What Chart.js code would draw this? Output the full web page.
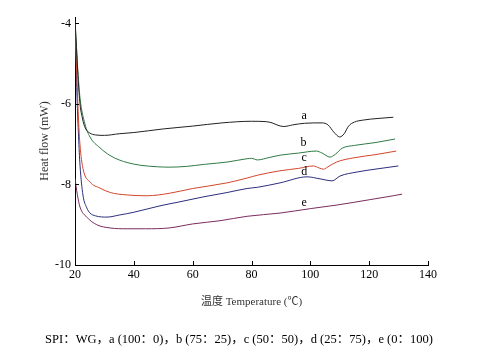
<!DOCTYPE html>
<html>
<head>
<meta charset="utf-8">
<script src="https://cdn.jsdelivr.net/npm/chart.js@4.4.1/dist/chart.umd.min.js"></script>
<style>
html,body{margin:0;padding:0;background:#fff;}
#wrap{position:relative;width:477px;height:354px;}
</style>
</head>
<body>
<div id="wrap"><canvas id="c" width="477" height="354"></canvas></div>
<script>
// ---- data ----
const seriesNames = ['a', 'b', 'c', 'd', 'e'];
const seriesColors = ['#222222', '#2f7a45', '#d2462c', '#2a2e7e', '#7a2c5c'];

const curveA = [[20,-3.9],[20.5,-4.6],[21,-5.3],[21.7,-6.0],[22.5,-6.35],[23.5,-6.6],[25,-6.72],[27,-6.77],[30,-6.78],[35,-6.74],[40,-6.71],[50,-6.62],[60,-6.55],[70,-6.47],[80,-6.43],[85,-6.44],[87,-6.47],[89,-6.53],[91,-6.56],[94,-6.52],[98,-6.48],[104,-6.47],[106,-6.52],[108,-6.7],[110,-6.82],[111.5,-6.74],[113,-6.55],[115,-6.45],[118,-6.4],[123,-6.36],[128.2,-6.33]];
const curveB = [[20,-3.95],[20.5,-4.6],[21,-5.2],[21.7,-5.85],[23.4,-6.5],[25.1,-6.82],[28.5,-7.09],[31.9,-7.28],[35,-7.39],[38,-7.46],[42,-7.52],[48,-7.56],[52,-7.57],[58,-7.55],[64,-7.5],[72,-7.44],[78.5,-7.36],[80,-7.35],[82,-7.39],[86,-7.33],[90,-7.27],[96,-7.22],[102,-7.17],[104,-7.22],[106.7,-7.32],[108.5,-7.25],[110.8,-7.1],[115,-7.03],[122,-6.96],[128.8,-6.87]];
const curveC = [[20,-4.0],[20.3,-4.6],[20.7,-5.45],[21.2,-6.4],[21.7,-7.02],[22.7,-7.6],[25.1,-7.94],[28.5,-8.09],[32,-8.2],[37.7,-8.26],[44.5,-8.28],[52,-8.22],[60,-8.1],[71.7,-7.96],[78.5,-7.84],[82,-7.77],[89.7,-7.66],[96,-7.6],[101,-7.54],[103,-7.59],[104.5,-7.62],[106,-7.56],[109,-7.44],[114.6,-7.34],[122,-7.26],[129.2,-7.17]];
const curveD = [[20,-4.0],[20.3,-4.7],[20.7,-5.85],[21.2,-6.8],[21.7,-7.52],[22.7,-8.26],[24,-8.58],[25.1,-8.71],[27,-8.78],[30.9,-8.81],[35,-8.76],[40,-8.69],[48.9,-8.53],[55,-8.44],[63.5,-8.31],[71.7,-8.2],[78.5,-8.1],[82,-8.07],[89.7,-7.96],[98.9,-7.81],[103.3,-7.86],[107.4,-7.91],[110.1,-7.79],[115.9,-7.69],[122,-7.62],[129.9,-7.54]];
const curveE = [[20,-7.85],[20.8,-8.25],[21.7,-8.56],[24,-8.81],[27.4,-9.0],[32,-9.08],[37.7,-9.1],[44,-9.1],[52,-9.08],[60,-8.98],[69.3,-8.9],[78.5,-8.79],[89.7,-8.71],[100,-8.6],[109.1,-8.51],[120,-8.38],[128.2,-8.28],[131.2,-8.24]];

const xTicks = [20, 40, 60, 80, 100, 120, 140];
const yTicks = [-10, -8, -6, -4];
const labelAnchors = [[97.9,-6.30],[97.7,-6.97],[97.9,-7.34],[97.9,-7.69],[97.9,-8.46]];

const xTitle = '温度 Temperature (℃)';
const yTitle = 'Heat flow (mW)';
const caption = 'SPI：WG，a (100：0)，b (75：25)，c (50：50)，d (25：75)，e (0：100)';

// ---- chart ----
const curves = [curveA, curveB, curveC, curveD, curveE];
const SERIF = '"Liberation Serif", "Times New Roman", "Noto Sans CJK SC", serif';

const datasets = curves.map((cv, i) => ({
  label: seriesNames[i],
  data: cv.map(p => ({x: p[0], y: p[1]})),
  borderColor: seriesColors[i],
  borderWidth: 1,
  pointRadius: 0,
  fill: false,
  cubicInterpolationMode: 'monotone'
}));

const decorPlugin = {
  id: 'decor',
  afterDraw(chart) {
    const ctx = chart.ctx;
    const xs = chart.scales.x, ys = chart.scales.y;
    const area = chart.chartArea;
    ctx.save();
    ctx.strokeStyle = '#000';
    ctx.lineWidth = 1;
    ctx.beginPath();
    xTicks.forEach(v => {
      const px = Math.round(xs.getPixelForValue(v)) + 0.5;
      ctx.moveTo(px, area.bottom);
      ctx.lineTo(px, area.bottom - 4);
    });
    yTicks.forEach(v => {
      const py = Math.round(ys.getPixelForValue(v)) + 0.5;
      ctx.moveTo(area.left, py);
      ctx.lineTo(area.left + 4, py);
    });
    ctx.stroke();
    // curve labels
    ctx.fillStyle = '#000';
    ctx.font = '12px ' + SERIF;
    ctx.textAlign = 'center';
    ctx.textBaseline = 'middle';
    labelAnchors.forEach((p, i) => {
      ctx.fillText(seriesNames[i], xs.getPixelForValue(p[0]), ys.getPixelForValue(p[1]));
    });
    // caption
    ctx.font = '12.5px ' + SERIF;
    ctx.textBaseline = 'middle';
    ctx.fillText(caption, 239, 340);
    ctx.restore();
  }
};

new Chart(document.getElementById('c'), {
  type: 'line',
  data: { datasets },
  options: {
    responsive: false,
    animation: false,
    devicePixelRatio: 1,
    layout: { padding: { left: 0, right: 49, top: 17, bottom: 43 } },
    plugins: { legend: { display: false }, tooltip: { enabled: false } },
    scales: {
      x: {
        type: 'linear',
        min: 20, max: 140,
        afterBuildTicks: s => { s.ticks = xTicks.map(v => ({value: v})); },
        afterFit: s => { s.height = 46; },
        grid: { display: false, drawTicks: false },
        border: { display: true, color: '#000', width: 1 },
        ticks: { color: '#000', font: { family: SERIF, size: 12 }, padding: 3 },
        title: { display: true, text: xTitle, color: '#333', font: { family: SERIF, size: 11 }, padding: { top: 0, bottom: 2 } }
      },
      y: {
        type: 'linear',
        min: -10, max: -3.84,
        afterBuildTicks: s => { s.ticks = yTicks.map(v => ({value: v})); },
        afterFit: s => { s.width = 75; },
        grid: { display: false, drawTicks: false },
        border: { display: true, color: '#000', width: 1 },
        ticks: { color: '#000', font: { family: SERIF, size: 12 }, padding: 4 },
        title: { display: true, text: yTitle, color: '#333', font: { family: SERIF, size: 12 }, padding: { top: 38, bottom: 0 } }
      }
    }
  },
  plugins: [decorPlugin]
});
</script>
</body>
</html>
